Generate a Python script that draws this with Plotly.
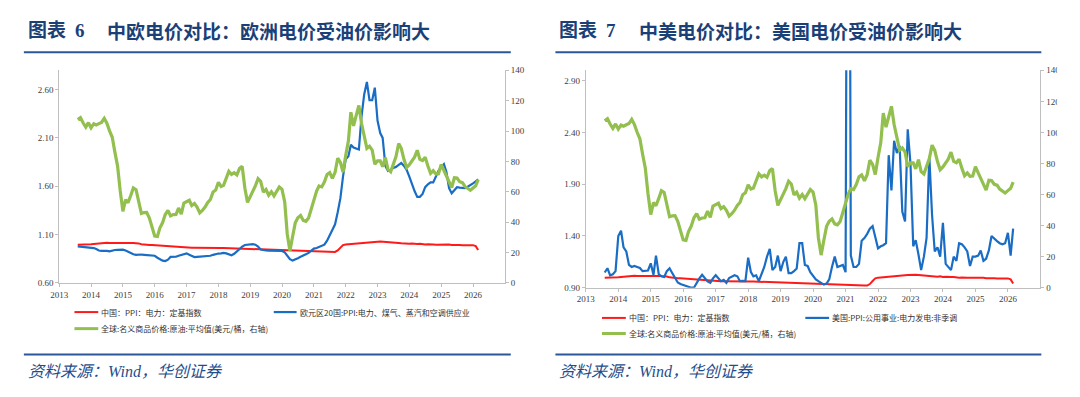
import pandas as pd
import plotly.graph_objects as go

# ---------------- data (monthly, 2013-08 .. 2026-03) ----------------
months = pd.date_range("2013-08-01", "2026-03-01", freq="MS").strftime("%Y-%m-%d").tolist()

china_ppi_power = [
    0.995, 0.995, 0.996, 0.997, 0.998,
    1.000, 1.003, 1.006, 1.010, 1.013, 1.015, 1.015, 1.013, 1.012, 1.011, 1.010, 1.010,
    1.010, 1.011, 1.012, 1.013, 1.013, 1.012, 1.008, 1.000, 0.995, 0.993, 0.992, 0.992,
    0.990, 0.986, 0.982, 0.978, 0.976, 0.974, 0.972, 0.970, 0.968, 0.967, 0.966, 0.965,
    0.964, 0.964, 0.963, 0.963, 0.962, 0.962, 0.962, 0.962, 0.962, 0.961, 0.960, 0.960,
    0.960, 0.960, 0.960, 0.959, 0.958, 0.956, 0.955, 0.955, 0.955, 0.954, 0.952, 0.950,
    0.948, 0.946, 0.944, 0.944, 0.943, 0.942, 0.942, 0.941, 0.940, 0.939, 0.938, 0.937,
    0.937, 0.936, 0.935, 0.934, 0.934, 0.933, 0.932, 0.932, 0.931, 0.930, 0.930, 0.929,
    0.924, 0.923, 0.922, 0.922, 0.921, 0.921, 0.920, 0.920, 0.920, 0.935, 0.965, 0.990,
    0.997, 1.000, 1.003, 1.005, 1.008, 1.010, 1.008, 1.012, 1.015, 1.018, 1.020, 1.022,
    1.025, 1.027, 1.026, 1.023, 1.020, 1.018, 1.016, 1.014, 1.012, 1.009, 1.006, 1.010,
    1.004, 1.006, 1.002, 1.003, 1.004, 0.998, 0.996, 0.998, 1.000, 0.997, 0.995, 0.996,
    1.000, 0.998, 0.995, 0.996, 0.992, 0.994, 0.990, 0.991, 0.988, 0.989, 0.986, 0.987,
    0.990, 0.980, 0.940,
]

euro_ppi_power = [
    0.977, 0.975, 0.975, 0.973, 0.970,
    0.968, 0.960, 0.950, 0.935, 0.930, 0.932, 0.930, 0.925, 0.935, 0.940, 0.942, 0.945,
    0.944, 0.935, 0.920, 0.905, 0.896, 0.890, 0.895, 0.893, 0.890, 0.888, 0.890, 0.886,
    0.880, 0.860, 0.845, 0.829, 0.825, 0.840, 0.868, 0.870, 0.870, 0.880, 0.890, 0.900,
    0.905, 0.890, 0.875, 0.866, 0.868, 0.870, 0.868, 0.872, 0.878, 0.880, 0.890, 0.900,
    0.903, 0.905, 0.910, 0.905, 0.893, 0.886, 0.900, 0.925, 0.954, 0.975, 0.992, 0.997,
    1.000, 1.000, 0.995, 0.975, 0.945, 0.937, 0.935, 0.932, 0.930, 0.930, 0.928, 0.930,
    0.930, 0.915, 0.880, 0.845, 0.830, 0.840, 0.855, 0.870, 0.880, 0.895, 0.910, 0.930,
    0.954, 0.960, 0.970, 0.977, 0.995, 1.037, 1.090, 1.150, 1.206, 1.330, 1.476, 1.700,
    1.880, 1.910, 2.030, 2.000, 1.990, 1.980, 2.317, 2.550, 2.680, 2.490, 2.490, 2.620,
    2.280, 2.150, 2.100, 1.810, 1.760, 1.770, 1.790, 1.800, 1.820, 1.840, 1.810, 1.770,
    1.700, 1.610, 1.550, 1.490, 1.490, 1.520, 1.590, 1.620, 1.640, 1.640, 1.700, 1.760,
    1.800, 1.830, 1.750, 1.580, 1.527, 1.560, 1.590, 1.585, 1.580, 1.580, 1.595, 1.610,
    1.630, 1.650, 1.670,
]

us_ppi_power = [
    1.047, 1.088, 1.020, 1.030, 1.060,
    1.400, 1.450, 1.290, 1.250, 1.120, 1.100, 1.110, 1.100, 1.090, 1.060, 1.060, 1.066,
    1.135, 1.025, 1.210, 1.030, 1.010, 1.003, 1.060, 1.088, 1.040, 0.990, 0.950, 0.935,
    0.925, 0.915, 0.910, 0.900, 0.900, 0.953, 0.990, 1.025, 0.990, 0.960, 0.947, 0.990,
    1.020, 0.990, 0.963, 0.975, 0.947, 0.994, 1.010, 1.020, 1.010, 0.963, 0.965, 0.963,
    1.190, 1.050, 1.010, 1.020, 0.963, 1.040, 1.100, 1.200, 1.276, 1.070, 1.100, 1.210,
    1.060, 1.150, 1.200, 1.040, 1.040, 1.060, 1.085, 1.330, 1.330, 1.120, 1.110, 1.050,
    1.020, 0.980, 0.963, 0.945, 0.930, 0.940, 0.980, 1.100, 1.200, 1.100, 1.110, 1.120,
    1.050, 9.000, 1.210, 1.100, 1.100, 1.130, 1.354, 1.380, 1.420, 1.470, 1.495, 1.380,
    1.280, 1.300, 1.310, 1.330, 2.180, 1.840, 2.320, 2.200, 2.270, 1.635, 1.540, 2.430,
    2.100, 1.300, 1.360, 1.220, 1.070, 1.200, 1.380, 2.170, 1.600, 1.250, 1.290, 1.200,
    1.526, 1.130, 1.100, 1.070, 1.200, 1.160, 1.330, 1.320, 1.290, 1.250, 1.110, 1.200,
    1.200, 1.210, 1.260, 1.160, 1.180, 1.260, 1.400, 1.370, 1.350, 1.330, 1.320, 1.330,
    1.430, 1.210, 1.470,
]

oil_avg = [
    107.5, 108.8, 105.4, 102.6, 105.5,
    102.1, 104.8, 104.0, 104.9, 105.7, 108.4, 105.2, 100.1, 95.9, 86.1, 76.9, 60.7,
    47.1, 54.8, 52.8, 57.5, 62.5, 61.3, 54.3, 45.7, 46.3, 46.4, 42.7, 37.2,
    30.8, 30.5, 36.2, 39.7, 45.0, 47.7, 44.1, 44.9, 45.0, 49.3, 45.3, 52.6,
    53.6, 54.4, 50.9, 52.2, 49.9, 46.1, 47.7, 49.9, 53.0, 54.9, 59.9, 61.2,
    66.2, 63.5, 64.2, 68.8, 73.4, 71.4, 72.5, 71.1, 75.4, 76.7, 62.3, 53.0,
    56.6, 61.1, 63.8, 68.6, 66.8, 59.8, 61.5, 57.7, 60.0, 57.3, 60.4, 63.2,
    61.6, 53.3, 32.2, 21.0, 30.4, 39.5, 42.8, 44.3, 41.1, 40.5, 42.7, 48.7,
    53.6, 60.5, 63.8, 63.2, 66.4, 71.4, 72.6, 68.9, 72.8, 82.1, 79.4, 72.9,
    83.9, 93.5, 112.4, 103.4, 110.1, 116.8, 105.1, 95.9, 88.6, 90.0, 87.4, 78.1,
    80.4, 80.4, 76.5, 82.5, 74.7, 73.2, 77.9, 83.2, 91.8, 88.4, 81.2, 76.0,
    77.8, 80.2, 82.8, 87.3, 81.3, 80.5, 82.8, 77.0, 72.1, 73.9, 71.7, 71.9,
    77.9, 74.0, 70.5, 65.4, 62.8, 69.2, 69.0, 66.6, 66.0, 63.5, 62.5, 61.0,
    62.5, 64.0, 68.0,
]

years = list(range(2013, 2027))
year_ticks = [f"{y}-01-01" for y in years]
year_labels = [str(y) for y in years]

name_cn = "中国：PPI：电力：定基指数"
name_eu = "欧元区20国:PPI:电力、煤气、蒸汽和空调供应业"
name_us = "美国:PPI:公用事业:电力发电:非季调"
name_oil = "全球:名义商品价格:原油:平均值(美元/桶，右轴)"

titles = [("6", "中欧电价对比：欧洲电价受油价影响大"),
          ("7", "中美电价对比：美国电价受油价影响大")]
title_lead = "图表"
source_text = "资料来源：Wind，华创证券"

# ---------------- style ----------------
W, H = 1080, 397
RED, BLUE, GREEN = "#FF1A1A", "#1A6DC4", "#93BF4E"
TITLE_BLUE = "#1B3F77"
RULE_BLUE = "#2B579A"
AXIS_GREY = "#BFBFBF"
TICK_FONT = dict(family="Liberation Serif", size=9, color="#404040")
LEG_FONT = dict(family="Noto Sans CJK SC", size=8, color="#333333")


def px(x):
    return x / W


def py(y):
    return 1 - y / H


fig = go.Figure()

# left panel
fig.add_trace(go.Scatter(x=months, y=china_ppi_power, mode="lines", line=dict(color=RED, width=2),
                         xaxis="x", yaxis="y", showlegend=False))
fig.add_trace(go.Scatter(x=months, y=euro_ppi_power, mode="lines", line=dict(color=BLUE, width=2.2),
                         xaxis="x", yaxis="y", showlegend=False))
fig.add_trace(go.Scatter(x=months, y=oil_avg, mode="lines", line=dict(color=GREEN, width=3.2),
                         xaxis="x", yaxis="y2", showlegend=False))
# right panel
fig.add_trace(go.Scatter(x=months, y=china_ppi_power, mode="lines", line=dict(color=RED, width=2),
                         xaxis="x2", yaxis="y3", showlegend=False))
fig.add_trace(go.Scatter(x=months, y=us_ppi_power, mode="lines", line=dict(color=BLUE, width=2.2),
                         xaxis="x2", yaxis="y3", showlegend=False))
fig.add_trace(go.Scatter(x=months, y=oil_avg, mode="lines", line=dict(color=GREEN, width=3.2),
                         xaxis="x2", yaxis="y4", showlegend=False))

ax_common = dict(showline=True, linecolor=AXIS_GREY, linewidth=1, showgrid=False, zeroline=False,
                 ticks="outside", ticklen=3, tickcolor=AXIS_GREY, tickfont=TICK_FONT, fixedrange=True)

xcommon = dict(ax_common, type="date", range=["2013-01-01", "2027-01-01"],
               tickmode="array", tickvals=year_ticks, ticktext=year_labels)

fig.update_layout(
    width=W, height=H,
    margin=dict(l=0, r=0, t=0, b=0),
    paper_bgcolor="white", plot_bgcolor="white",
    xaxis=dict(xcommon, domain=[px(50.7), px(500)], anchor="y"),
    yaxis=dict(ax_common, domain=[py(285), py(67)], range=[0.6, 2.8], tick0=0.6, dtick=0.5,
               tickformat=".2f", anchor="x"),
    yaxis2=dict(ax_common, overlaying="y", side="right", anchor="x", range=[0, 140], dtick=20),
    xaxis2=dict(xcommon, domain=[px(581.7), px(1040)], anchor="y3"),
    yaxis3=dict(ax_common, domain=[py(290), py(67)], range=[0.9, 3.0], tick0=0.9, dtick=0.5,
                tickformat=".2f", anchor="x2"),
    yaxis4=dict(ax_common, overlaying="y3", side="right", anchor="x2", range=[0, 140], dtick=20),
)

shapes = []
annotations = []

# titles, rules and source
for i, (num, body) in enumerate(titles):
    off = 0 if i == 0 else 536
    tfont = dict(family="Liberation Serif, Noto Sans CJK SC", size=19, color=TITLE_BLUE)
    annotations.append(dict(text=f"<b>{title_lead}</b>", x=px(17 + off), y=py(26), xref="paper", yref="paper",
                            xanchor="left", yanchor="middle", showarrow=False, font=tfont))
    annotations.append(dict(text=f"<b>{num}</b>", x=px(72 + off - (1 if i else 0)), y=py(26), xref="paper",
                            yref="paper", xanchor="center", yanchor="middle", showarrow=False, font=tfont))
    annotations.append(dict(text=f"<b>{body}</b>", x=px(97 + off), y=py(26), xref="paper", yref="paper",
                            xanchor="left", yanchor="middle", showarrow=False,
                            font=dict(family="Noto Sans CJK SC", size=19, color=TITLE_BLUE)))
    x0, x1 = (15, 506) if i == 0 else (551, 1041)
    shapes.append(dict(type="line", xref="paper", yref="paper", x0=px(x0), x1=px(x1), y0=py(48.5), y1=py(48.5),
                       line=dict(color=RULE_BLUE, width=2)))
    shapes.append(dict(type="line", xref="paper", yref="paper", x0=px(x0), x1=px(x1), y0=py(358.5), y1=py(358.5),
                       line=dict(color=RULE_BLUE, width=2)))
    annotations.append(dict(text=f"<i>{source_text}</i>", x=px(17 + off), y=py(375.5), xref="paper", yref="paper",
                            xanchor="left", yanchor="middle", showarrow=False,
                            font=dict(family="Liberation Serif, Noto Sans CJK SC", size=16, color="#1F4E8C")))

# legends
legend_items = [
    # (line x0, line x1, y, color, width, text)
    (66, 90, 315, RED, 2, name_cn),
    (267, 290, 315, BLUE, 2.2, name_eu),
    (66, 90, 332, GREEN, 3, name_oil),
    (598, 622, 321, RED, 2, name_cn),
    (803, 827, 321, BLUE, 2.2, name_us),
    (598, 622, 337, GREEN, 3, name_oil),
]
for x0, x1, y, col, w, txt in legend_items:
    shapes.append(dict(type="line", xref="paper", yref="paper", x0=px(x0), x1=px(x1), y0=py(y), y1=py(y),
                       line=dict(color=col, width=w)))
    annotations.append(dict(text=txt, x=px(x1 + 1), y=py(y), xref="paper", yref="paper",
                            xanchor="left", yanchor="middle", showarrow=False, font=LEG_FONT))

# the original picture is cropped at its right edge, clipping the last digits of the right-axis labels
shapes.append(dict(type="rect", xref="paper", yref="paper", x0=px(1057), x1=1, y0=py(305), y1=py(55),
                   fillcolor="white", line=dict(width=0), layer="above"))

fig.update_layout(shapes=shapes, annotations=annotations)

fig.write_html("out.html", config={"displayModeBar": False, "responsive": False},
               post_script="document.body.style.margin='0';document.body.style.overflow='hidden';")
